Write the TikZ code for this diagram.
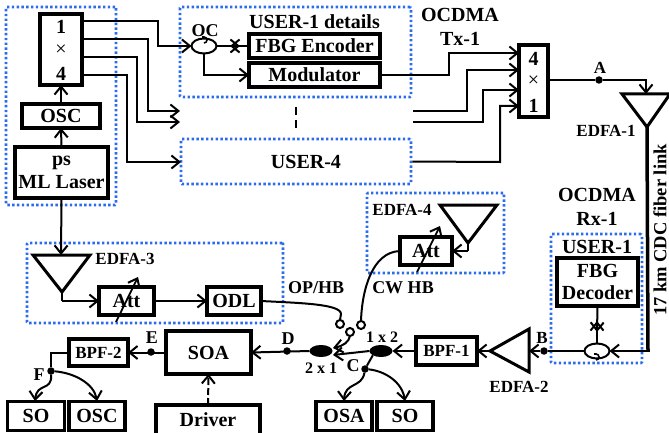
\documentclass[tikz,border=0pt]{standalone}
\usepackage{fontspec}
\setmainfont{Liberation Serif}[BoldFont={Liberation Serif Bold}]
\usetikzlibrary{arrows.meta,shapes.geometric,calc}
\definecolor{dotblue}{HTML}{2B6BEE}
\newcommand{\fs}[1]{\fontsize{#1}{#1}\selectfont\bfseries}
\tikzset{
  x=1pt,y=-1pt,
  bx/.style={draw=black,line width=3.2pt,fill=white,inner sep=0pt,outer sep=0pt,align=center,font=\fs{20}},
  grp/.style={draw=dotblue,line width=2.6pt,dash pattern=on 2.4pt off 2.4pt,rounded corners=1pt},
  lab/.style={inner sep=0pt,outer sep=0pt,align=center,font=\fs{#1}},
  lab/.default=18,
  wire/.style={draw=black,line width=2pt,-{Straight Barb[length=8pt,width=13pt,line width=2pt]}},
  line/.style={draw=black,line width=2pt},
  tri/.style={draw=black,line width=3pt,line join=miter,fill=white},
  dotn/.style={circle,fill=black,inner sep=0pt,outer sep=0pt,minimum size=7.5pt},
  port/.style={circle,draw=black,line width=2pt,fill=white,inner sep=0pt,outer sep=0pt,minimum size=8pt},
  circ/.style={ellipse,draw=black,line width=2pt,fill=white,inner sep=0pt,outer sep=0pt,minimum width=25pt,minimum height=15pt},
  coup/.style={ellipse,fill=black,inner sep=0pt,outer sep=0pt,minimum width=23pt,minimum height=12pt},
}
\begin{document}
\begin{tikzpicture}
\useasboundingbox (0,0) rectangle (669,433);
% groups
\node[grp,minimum width=110pt,minimum height=198pt,inner sep=0pt] (g1) at (61,106) {};
\node[grp,minimum width=231pt,minimum height=90pt,inner sep=0pt] (g2) at (295.5,52) {};
\node[grp,minimum width=230pt,minimum height=45pt,inner sep=0pt] (g3) at (296,161.5) {};
\node[grp,minimum width=137pt,minimum height=80pt,inner sep=0pt] (g4) at (435.5,233) {};
\node[grp,minimum width=256pt,minimum height=80pt,inner sep=0pt] (g5) at (155,283) {};
\node[grp,minimum width=91pt,minimum height=129pt,inner sep=0pt] (g6) at (596.5,298.5) {};
% boxes
\node[bx,minimum width=42pt,minimum height=71pt] (split) at (61,49.5) {};
\node[lab=20] (s1) at (61,27) {1};
\node[inner sep=0pt,font=\fontsize{20}{20}\selectfont] (s2) at (61,50) {×};
\node[lab=20] (s3) at (61,74) {4};
\node[bx,minimum width=78pt,minimum height=24pt] (osc1) at (61,116) {OSC};
\node[bx,minimum width=93pt,minimum height=51pt] (laser) at (61.5,172.5) {ps\\[3pt]ML Laser};
\node[bx,minimum width=131pt,minimum height=24pt] (enc) at (314.5,46) {FBG Encoder};
\node[bx,minimum width=131pt,minimum height=24pt] (mod) at (314.5,75) {Modulator};
\node[circ] (oc) at (204,46) {};
\node[lab=18] (octxt) at (205,31) {OC};
\node[lab=20] (u1d) at (314.5,22) {USER-1 details};
\node[lab=20] (u4) at (306,162) {USER-4};
\node[lab=20] (tx) at (460,27) {OCDMA\\[4pt]Tx-1};
\node[bx,minimum width=29pt,minimum height=72pt] (comb) at (533.5,81) {};
\node[lab=20] (c1) at (533.5,59) {4};
\node[inner sep=0pt,font=\fontsize{20}{20}\selectfont] (c2) at (533.5,81) {×};
\node[lab=20] (c3) at (533.5,106) {1};
\node[dotn] (A) at (599,80) {};
\node[lab=17] (Atxt) at (600,68) {A};
\coordinate (e1a) at (622,94); \coordinate (e1b) at (670,94); \coordinate (e1c) at (647,127); \coordinate (e1in) at (646,94);
\coordinate (fibc) at (648,351);
\node[lab=17] (e1t) at (606,131) {EDFA-1};
\node[lab=20] (rx) at (597,207) {OCDMA\\[4pt]Rx-1};
\node[lab=18.5,rotate=90] (fib) at (660,230) {17 km CDC fiber link};
\node[lab=20] (u1r) at (597,247) {USER-1};
\node[bx,minimum width=81pt,minimum height=48pt] (dec) at (597.5,282) {FBG\\[2pt]Decoder};
\node[circ] (oc2) at (597,351) {};
\node[dotn] (B) at (544,351) {};
\node[lab=17] (Btxt) at (542,338) {B};
\coordinate (e2a) at (529,329); \coordinate (e2b) at (529,372); \coordinate (e2c) at (490,351); \coordinate (e2in) at (529,351);
\node[lab=17] (e2t) at (519,387) {EDFA-2};
\node[bx,minimum width=61pt,minimum height=28pt,font=\fs{17}] (bpf1) at (446.5,351) {BPF-1};
\node[coup] (c12) at (381,351) {};
\node[lab=16] (t12) at (382,337) {1 x 2};
\node[coup] (c21) at (321,351) {};
\node[lab=16] (t21) at (321,368) {2 x 1};
\node[dotn] (C) at (365,369) {};
\node[lab=18] (Ctxt) at (353,366) {C};
\node[dotn] (D) at (287,351) {};
\node[lab=18] (Dtxt) at (288,339) {D};
\node[bx,minimum width=85pt,minimum height=43pt] (soa) at (208.5,352.5) {SOA};
\node[dotn] (E) at (151,352) {};
\node[lab=18] (Etxt) at (152,338) {E};
\node[bx,minimum width=59pt,minimum height=27pt,font=\fs{17}] (bpf2) at (98.5,352.5) {BPF-2};
\node[dotn] (F) at (51,371) {};
\node[lab=18] (Ftxt) at (39,375) {F};
\node[bx,minimum width=57pt,minimum height=29pt] (so1) at (36,416) {SO};
\node[bx,minimum width=56pt,minimum height=29pt] (osc2) at (97,416) {OSC};
\node[bx,minimum width=104pt,minimum height=32pt] (drv) at (208,421) {\raisebox{2pt}{Driver}};
\node[bx,minimum width=56pt,minimum height=29pt] (osa) at (344,416) {OSA};
\node[bx,minimum width=56pt,minimum height=29pt] (so2) at (405,416) {SO};
\node[port] (p1) at (340,324) {};
\node[port] (p2) at (361,325) {};
\node[port] (p3) at (350,332) {};
\node[lab=18] (opt) at (316,288) {OP/HB};
\node[lab=18] (cwt) at (403,288) {CW HB};
% EDFA-3 chain
\coordinate (e3a) at (33,255); \coordinate (e3b) at (90,255); \coordinate (e3c) at (62,292); \coordinate (e3in) at (61,255);
\node[lab=17] (e3t) at (125,259) {EDFA-3};
\node[bx,minimum width=55pt,minimum height=28pt] (att3) at (126.5,301) {Att};
\node[bx,minimum width=54pt,minimum height=28pt] (odl) at (234,301) {ODL};
\coordinate (a3s) at (116,322); \coordinate (a3e) at (138,277);
% EDFA-4 chain
\coordinate (e4a) at (440,205); \coordinate (e4b) at (497,205); \coordinate (e4c) at (468,243);
\node[lab=17] (e4t) at (402,210) {EDFA-4};
\node[bx,minimum width=52pt,minimum height=28pt] (att4) at (426,251) {Att};
\coordinate (a4s) at (417,272); \coordinate (a4e) at (440,226);
% triangles
\draw[tri] (e1a) -- (e1b) -- (e1c) -- cycle;
\draw[tri] (e2a) -- (e2b) -- (e2c) -- cycle;
\draw[tri] (e3a) -- (e3b) -- (e3c) -- cycle;
\draw[tri] (e4a) -- (e4b) -- (e4c) -- cycle;
% variable attenuator arrows
\draw[wire,line width=1.8pt] (a3s) -- (a3e);
\draw[wire,line width=1.8pt] (a4s) -- (a4e);
% transmitter wiring
\coordinate (o1) at (82,21); \coordinate (o2) at (82,39); \coordinate (o3) at (82,57); \coordinate (o4) at (82,75);
\coordinate (t2) at (180,111); \coordinate (t3) at (180,122); \coordinate (t4) at (181,162);
\coordinate (f2) at (413,111); \coordinate (f3) at (413,122);
\draw[wire] (laser.north) -- (osc1.south);
\draw[wire] (osc1.north) -- (split.south);
\draw[wire] (o1) -| (158,46) -- (oc.west);
\draw[wire] (o2) -| (148,111) -- (t2);
\draw[wire] (o3) -| (137,122) -- (t3);
\draw[wire] (o4) -| (127,162) -- (t4);
\draw[wire] (oc.east) -- (240,46);
\draw[wire] (enc.west) -- (230,46);
\draw[wire] (oc.south) |- (mod.west);
\coordinate (d1) at (296,107); \coordinate (d2) at (296,128);
\draw[line,line width=2.2pt,dash pattern=on 8pt off 5pt] (d1) -- (d2);
\draw[wire] (mod.east) -- (449,75) |- (519,53);
\draw[wire] (f2) -- (467,111) |- (519,70);
\draw[wire] (f3) -- (483,122) |- (519,90);
\draw[wire] (g3.east) -- (500,162) |- (519,106);
\draw[line] (comb.east |- A) -- (A);
\draw[wire] (A) -- (646,80) -- (e1in);
\draw[line,line width=3.5pt] (e1c) -- (fibc);
\draw[wire] (649.5,351) -- (oc2.east);
% receiver wiring
\draw[wire] (dec.south) -- (597,332);
\draw[wire] (oc2.north) -- (597,321);
\draw[line] (oc2.west) -- (B);
\draw[wire] (B) -- (e2in);
\draw[wire] (e2c) -- (bpf1.east);
\draw[wire] (bpf1.west) -- (c12.east);
\draw[wire] (c12.west) -- (333,355);
\draw[line] (c12.south west) -- (C);
\draw[wire] (C) .. controls (362,388) and (345,382) .. (344,401);
\draw[wire] (C) .. controls (385,371) and (402,382) .. (405,401);
\draw[wire] (c21.west) -- (soa.east);
\draw[wire] (soa.west) -- (bpf2.east);
\draw[line] (bpf2.west) -| (F);
\draw[wire] (F) .. controls (52,392) and (37,382) .. (35,401);
\draw[wire] (F) .. controls (75,373) and (94,384) .. (97,401);
\draw[wire,dash pattern=on 7pt off 3pt] (drv.north) -- (soa.south);
% switch
\draw[wire] (p3.south) .. controls (349,342) and (343,346) .. (333,348);
\draw[line] (p1.north) -- (341,314) .. controls (341,304) and (300,303) .. (odl.east);
\draw[line] (p2.north) .. controls (362,290) and (372,252) .. (att4.west);
% EDFA links
\draw[wire] (laser.south) -- (e3in);
\draw[line] (e3c) -- (62,301);
\draw[wire] (62,301) -- (att3.west);
\draw[wire] (att3.east) -- (odl.west);
\draw[line] (e4c) -- (468,251);
\draw[wire] (468,251) -- (att4.east);
% circulator marks
\draw[line,line width=1.6pt] ($(oc.center)+(0,-3)$) arc[start angle=90,end angle=-90,radius=3] -- ++(-2,0);
\draw[line,line width=1.6pt] ($(oc2.center)+(-3,3)$) -- ++(2,0) arc[start angle=-90,end angle=90,radius=3];
\end{tikzpicture}
\end{document}
